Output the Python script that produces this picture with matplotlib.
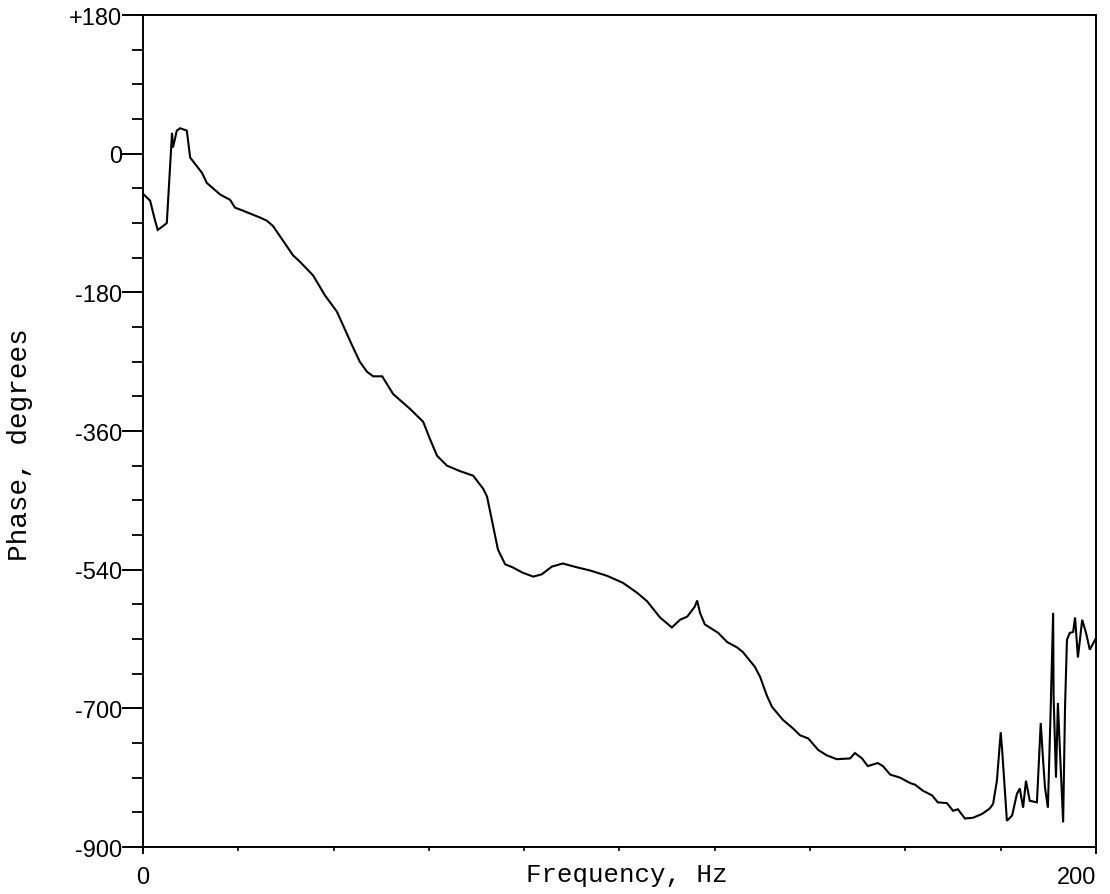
import matplotlib
matplotlib.use("Agg")
import matplotlib.pyplot as plt
from matplotlib.ticker import MultipleLocator

# phase response trace, read point by point
freq_hz = [
    0.0, 1.5, 2.5, 3.1, 4.2, 5.0, 5.9, 6.1, 6.3, 7.1, 7.8, 9.2, 9.9, 12.4, 13.4,
    16.2, 18.3, 19.3, 21.0, 24.6, 26.0, 27.3, 29.4, 31.5, 32.9, 35.7, 38.2, 40.7,
    42.0, 43.9, 45.5, 47.0, 48.3, 50.2, 52.5, 56.0, 58.8, 60.2, 61.7, 63.8, 66.5,
    69.3, 71.4, 72.2, 73.5, 74.5, 76.0, 77.6, 79.7, 81.9, 83.7, 85.8, 88.1, 91.1,
    93.8, 97.4, 100.7, 103.7, 105.8, 108.5, 111.0, 112.7, 114.2, 115.8, 116.3,
    116.9, 117.9, 120.7, 122.6, 124.7, 125.9, 128.4, 129.5, 130.9, 132.0, 134.3,
    136.4, 137.9, 139.6, 141.7, 143.5, 145.6, 148.4, 149.4, 150.9, 152.1, 154.2,
    155.3, 156.8, 158.9, 161.0, 162.0, 163.7, 165.6, 166.8, 168.7, 170.0, 171.0,
    172.5, 174.2, 176.1, 177.7, 178.4, 179.2, 180.0, 180.3, 181.3, 182.4, 183.4,
    184.0, 184.7, 185.3, 186.1, 187.6, 188.4, 188.9, 189.3, 189.9, 190.5, 191.0,
    191.1, 191.6, 192.0, 192.4, 193.1, 193.5, 193.9, 194.5, 195.2, 195.6, 196.2,
    197.1, 197.9, 198.7, 199.8,
]
phase_deg = [
    -52, -61, -86, -99, -94, -90, 5, 27, 8, 30, 33, 30, -5, -25, -38,
    -53, -60, -70, -74, -83, -87, -94, -113, -132, -140, -158, -184, -205,
    -223, -249, -270, -283, -289, -289, -312, -331, -348, -370, -392, -405, -412,
    -418, -435, -445, -484, -514, -533, -537, -544, -549, -546, -536, -532, -537,
    -541, -548, -557, -570, -581, -602, -615, -605, -601, -588, -580,
    -596, -611, -622, -634, -641, -647, -666, -679, -703, -718, -735,
    -746, -755, -759, -774, -781, -786, -785, -778, -785, -795, -791,
    -795, -806, -810, -817, -819, -827, -833, -842, -843, -853, -851,
    -863, -862, -857, -850, -844, -814, -751, -774, -866, -859, -831,
    -824, -849, -814, -840, -842, -739, -788, -823, -849, -718, -596,
    -705, -810, -713, -771, -868, -718, -631, -622, -621, -602, -654,
    -605, -622, -644, -631,
]

y_ticks = [180, 0, -180, -360, -540, -720, -900]
y_tick_labels = ["+180", "0", "-180", "-360", "-540", "-700", "-900"]
x_ticks = [0, 200]
x_tick_labels = ["0", "200"]

fig = plt.figure(figsize=(11.1, 8.95), dpi=100)
ax = fig.add_axes([0.1288, 0.0525, 0.8586, 0.9296])

ax.plot(freq_hz, phase_deg, color="black", lw=1.5, solid_joinstyle="miter")

ax.set_xlim(0, 200)
ax.set_ylim(-900, 180)

for spine in ax.spines.values():
    spine.set_linewidth(1.4)

ax.set_yticks(y_ticks)
ax.set_yticklabels(y_tick_labels, family="Liberation Sans", fontsize=17)
ax.yaxis.set_minor_locator(MultipleLocator(45))
ax.tick_params(axis="y", which="major", direction="out", length=15, width=1.4, pad=0)
ax.tick_params(axis="y", which="minor", direction="out", length=8, width=1.3)

ax.set_xticks(x_ticks)
ax.set_xticklabels(x_tick_labels, family="Liberation Sans", fontsize=17)
ax.xaxis.set_minor_locator(MultipleLocator(20))
ax.tick_params(axis="x", which="major", direction="out", length=5, width=1.4, pad=9)
ax.tick_params(axis="x", which="minor", direction="out", length=3, width=1.2)
ax.get_xticklabels()[-1].set_ha("right")

ax.set_xlabel("Frequency, Hz", family="Liberation Mono", fontsize=18.5)
ax.xaxis.set_label_coords(0.508, -0.018)
ax.set_ylabel("Phase, degrees", family="Liberation Mono", fontsize=20)
ax.yaxis.set_label_coords(-0.115, 0.485)

fig.savefig("out.png", dpi=100, facecolor="white")
